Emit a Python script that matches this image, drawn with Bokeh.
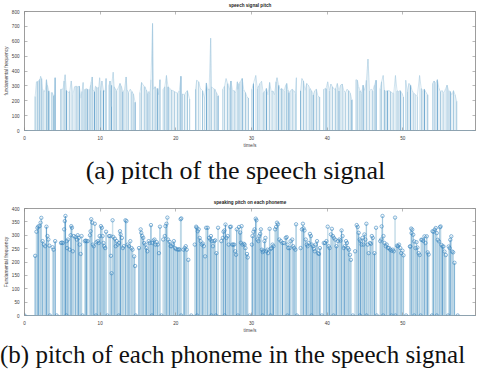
from bokeh.plotting import figure
from bokeh.layouts import column
from bokeh.models import Div, Span, LinearAxis, SingleIntervalTicker, ColumnDataSource, CustomJSTickFormatter
from bokeh.embed import file_html
from bokeh.resources import INLINE

X_END = 59.6

# ---------------- (a) frame-level pitch (0 = unvoiced) ----------------
top_time_1 = [1.41, 1.41, 1.58, 1.75, 1.92, 2.05, 2.13, 2.26, 2.39, 2.56, 2.73, 2.90, 3.03, 3.20, 3.32, 3.32,
              3.62, 3.62, 3.70, 3.84, 3.97, 4.05, 4.05,
              4.77, 4.77, 4.94, 5.10, 5.24, 5.37, 5.54, 5.75, 5.97, 6.18, 6.39, 6.61, 6.82, 7.03, 7.24, 7.46, 7.60, 7.75, 7.75,
              8.00, 8.00, 8.18, 8.35, 8.35,
              8.61, 8.61, 8.74, 8.82, 8.95, 9.04, 9.25, 9.38, 9.55, 9.68, 9.80, 9.93, 10.06, 10.23, 10.44, 10.66, 10.78, 10.78,
              11.17, 11.17, 11.30, 11.45, 11.51, 11.72, 11.85, 12.00, 12.15, 12.36, 12.62, 12.79, 13.00, 13.20, 13.43, 13.56,
              13.73, 13.98, 14.19, 14.40, 14.62, 14.62]
top_pitch_1 = [0, 229, 327, 330, 334, 345, 364, 349, 277, 268, 262, 342, 305, 268, 255, 0,
               0, 256, 250, 233, 240, 355, 0,
               0, 277, 277, 280, 333, 375, 270, 255, 262, 333, 240, 294, 298, 294, 298, 218, 262, 323, 0,
               0, 277, 280, 277, 0,
               0, 277, 305, 327, 360, 270, 262, 298, 290, 283, 290, 355, 270, 333, 270, 262, 349, 0,
               0, 305, 333, 160, 305, 392, 294, 280, 268, 283, 316, 298, 262, 270, 360, 272,
               255, 277, 262, 246, 190, 0]

top_time_2 = [15.26, 15.26, 15.47, 15.69, 15.90, 16.11, 16.32, 16.45, 16.58, 16.71, 16.92, 17.05, 17.26, 17.48, 17.60, 17.73, 17.90, 17.90,
              18.33, 18.33, 18.54, 18.76, 18.97, 19.18, 19.40, 19.61, 19.82, 20.03, 20.25, 20.46, 20.67, 20.67,
              20.89, 20.89, 21.14, 21.31, 21.52, 21.82, 21.82,
              22.60, 22.60, 22.76, 23.02, 23.23, 23.53, 23.78, 24.04, 24.21, 24.40, 24.60, 24.72, 24.94, 25.15, 25.36, 25.58, 25.58,
              26.21, 26.21, 26.43, 26.64, 26.85, 27.06, 27.28, 27.49, 27.71, 27.92, 28.13, 28.24, 28.35, 28.50, 28.77, 28.98,
              29.20, 29.40, 29.60, 29.60]
top_pitch_2 = [0, 255, 323, 305, 294, 272, 250, 262, 240, 342, 720, 277, 294, 277, 283, 240, 342, 0,
               0, 277, 294, 370, 294, 283, 272, 268, 262, 255, 250, 268, 364, 0,
               0, 246, 240, 255, 268, 211, 0,
               0, 277, 338, 327, 283, 268, 218, 320, 272, 280, 621, 294, 283, 277, 255, 233, 0,
               0, 277, 298, 349, 316, 272, 333, 268, 268, 251, 327, 277, 316, 327, 349, 272,
               255, 225, 218, 0]

top_time_3 = [30.05, 30.05, 30.26, 30.56, 30.77, 30.95, 31.11, 31.33, 31.54, 31.75, 31.97, 32.18, 32.39, 32.61, 32.82, 33.03,
              33.25, 33.37, 33.59, 33.80, 33.97, 34.10, 34.31, 34.52, 34.65, 34.82, 34.95, 35.16, 35.38, 35.59, 35.80, 35.93, 35.93,
              36.48, 36.48, 36.66, 36.87, 37.08, 37.29, 37.51, 37.72, 37.93, 38.15, 38.36, 38.57, 38.79, 39.00, 39.00,
              39.55, 39.55, 39.85, 40.07, 40.28, 40.49, 40.70, 40.92, 41.13, 41.34, 41.56, 41.77, 41.98, 42.20, 42.41, 42.62,
              42.84, 43.05, 43.26, 43.26]
top_pitch_3 = [0, 277, 316, 370, 283, 300, 316, 331, 255, 262, 283, 240, 323, 262, 266, 240,
               327, 355, 305, 272, 283, 277, 268, 305, 316, 272, 255, 268, 277, 268, 251, 355, 0,
               0, 268, 349, 333, 268, 316, 305, 283, 268, 240, 268, 277, 229, 225, 0,
               0, 277, 283, 327, 268, 312, 294, 277, 283, 316, 268, 305, 312, 268, 255, 277,
               268, 251, 207, 0]

top_time_4 = [43.82, 43.82, 43.99, 44.16, 44.33, 44.54, 44.75, 44.97, 45.18, 45.39, 45.61, 45.82, 46.03, 46.25, 46.46, 46.46,
              47.01, 47.01, 47.18, 47.40, 47.57, 47.74, 47.95, 48.16, 48.38, 48.59, 48.80, 49.02, 49.23, 49.44, 49.66, 49.87, 50.08, 50.08,
              50.38, 50.38, 50.59, 50.81, 51.02, 51.23, 51.45, 51.66, 51.91, 52.21, 52.43, 52.64, 52.85, 53.07, 53.28, 53.28,
              53.92, 53.92, 54.13, 54.35, 54.56, 54.77, 54.98, 55.20, 55.41, 55.62, 55.84, 56.05, 56.26, 56.48, 56.69, 56.90,
              57.11, 57.11]
top_pitch_4 = [0, 342, 338, 294, 268, 251, 305, 268, 338, 480, 268, 277, 268, 305, 338, 0,
               0, 283, 327, 370, 272, 262, 268, 268, 262, 251, 251, 370, 268, 262, 268, 251, 225, 0,
               0, 338, 262, 316, 305, 268, 251, 240, 229, 370, 283, 268, 277, 255, 240, 0,
               0, 316, 333, 316, 342, 283, 262, 268, 251, 277, 305, 268, 262, 240, 268, 240,
               196, 0]

# ---------------- (b) pitch of each phoneme (0 = boundary) ----------------
phon_time_1 = [0.0, 1.41, 1.58, 1.71, 1.83, 2.00, 2.13, 2.22, 2.39, 2.56, 2.73, 2.90, 3.03, 3.15, 3.28, 3.35, 3.71, 3.84, 4.05, 4.26,
               4.82, 4.94, 5.07, 5.24, 5.33, 5.41, 5.54, 5.58, 5.63, 5.75, 5.97, 6.10, 6.18, 6.27, 6.39, 6.52, 6.73, 6.91,
               7.03, 7.16, 7.29, 7.42, 7.54, 7.67, 7.97, 8.08, 8.18, 8.35,
               8.65, 8.74, 8.82, 8.95, 9.04, 9.16, 9.29, 9.45, 9.51, 9.68, 9.80, 9.93, 10.10, 10.23, 10.32, 10.44, 10.53,
               10.66, 10.78, 10.95,
               11.17, 11.34, 11.42, 11.51, 11.64, 11.72, 11.94, 12.06, 12.19, 12.32, 12.45, 12.50, 12.62, 12.70, 12.87, 13.00,
               13.13, 13.34, 13.47, 13.64, 13.81, 13.98, 14.15, 14.28, 14.49, 14.62, 14.70]
phon_pitch_1 = [0, 223, 313, 328, 333, 334, 347, 365, 278, 265, 259, 332, 297, 284, 261, 0, 255, 246, 278, 0,
                271, 273, 271, 322, 353, 372, 0, 278, 252, 284, 246, 300, 334, 328, 240, 297, 293, 284,
                300, 290, 265, 230, 297, 0, 278, 280, 278, 278,
                300, 315, 360, 347, 265, 259, 343, 0, 274, 278, 271, 297, 334, 328, 297, 271, 259,
                252, 313, 0,
                297, 297, 223, 158, 356, 294, 287, 259, 278, 265, 0, 271, 315, 303, 290, 252,
                259, 356, 353, 265, 259, 278, 252, 246, 221, 185, 0]

phon_time_2 = [15.13, 15.35, 15.43, 15.56, 15.69, 15.81, 15.98, 16.11, 16.24, 16.41, 16.54, 16.71, 16.84, 16.90, 17.05, 17.18,
               17.31, 17.48, 17.60, 17.77, 17.90, 18.10,
               18.33, 18.54, 18.63, 18.76, 18.88, 18.97, 19.18, 19.31, 19.44, 19.61, 19.74, 19.91, 20.03, 20.25, 20.37, 20.50,
               20.63, 20.70, 20.72,
               21.01, 21.18, 21.31, 21.44, 21.65, 22.04,
               22.50, 22.68, 22.76, 22.80, 22.89, 23.02, 23.15, 23.27, 23.44, 23.57, 23.70, 23.87, 24.00, 24.21, 24.38, 24.55,
               24.64, 24.70, 24.77, 24.90, 25.06, 25.19, 25.30, 25.36, 25.58,
               26.00, 26.21, 26.30, 26.43, 26.45, 26.56, 26.68, 26.85, 26.98, 27.15, 27.28, 27.45, 27.58, 27.71, 27.84, 27.96,
               28.05, 28.20, 28.35, 28.50, 28.60, 28.69, 28.80, 28.98, 29.10, 29.20, 29.40, 29.50, 29.75]
phon_pitch_2 = [252, 322, 309, 297, 290, 271, 265, 252, 240, 278, 271, 338, 0, 271, 280, 284,
                265, 274, 265, 233, 332, 0,
                284, 297, 334, 343, 366, 284, 275, 259, 259, 265, 278, 252, 248, 246, 248, 246,
                360, 0, 363,
                246, 252, 259, 246, 208, 0,
                265, 332, 328, 0, 315, 322, 290, 278, 265, 269, 259, 221, 328, 328, 290, 284,
                297, 0, 278, 259, 278, 281, 0, 233, 328,
                278, 290, 313, 318, 0, 340, 290, 297, 265, 331, 332, 265, 265, 265, 240, 227,
                322, 0, 331, 310, 272, 334, 265, 268, 265, 252, 230, 217, 0]

phon_time_3 = [30.05, 30.13, 30.26, 30.40, 30.56, 30.65, 30.77, 30.90, 31.03, 31.15, 31.24, 31.37, 31.46, 31.48, 31.58, 31.71,
               31.84, 31.97, 32.10, 32.18, 32.39, 32.52, 32.53, 32.65, 32.78, 32.90, 33.12, 33.25, 33.37, 33.50,
               33.67, 33.88, 34.10, 34.31, 34.52, 34.65, 34.74, 34.76, 34.85, 35.04, 35.16, 35.38, 35.50, 35.63, 35.80, 35.89, 36.00,
               36.49, 36.66, 36.79, 36.87, 37.00, 37.17, 37.30, 37.42, 37.55, 37.72, 37.85, 37.93, 37.98, 38.10, 38.23, 38.36,
               38.49, 38.66, 38.79, 38.92, 39.04, 39.30,
               39.55, 39.72, 39.90, 40.07, 40.20, 40.32, 40.49, 40.62, 40.75, 40.83, 40.88, 41.05, 41.22, 41.43, 41.60, 41.77,
               41.90, 42.03, 42.20, 42.32, 42.49, 42.62, 42.75, 42.88, 43.01, 43.13, 43.39]
phon_pitch_3 = [265, 297, 313, 322, 362, 356, 284, 278, 297, 305, 322, 246, 0, 237, 242, 278,
                290, 240, 246, 233, 324, 0, 249, 252, 265, 259, 322, 331, 347, 341,
                284, 278, 271, 271, 290, 293, 0, 265, 252, 252, 278, 284, 259, 252, 246, 341, 0,
                252, 322, 343, 326, 318, 284, 265, 259, 271, 305, 297, 0, 265, 259, 249, 240,
                265, 278, 233, 230, 252, 0,
                271, 271, 278, 332, 259, 252, 303, 324, 297, 0, 290, 284, 259, 278, 284, 280,
                318, 297, 252, 259, 278, 271, 252, 246, 227, 208, 0]

phon_time_4 = [43.69, 43.90, 44.03, 44.16, 44.29, 44.33, 44.41, 44.54, 44.67, 44.80, 44.92, 45.05, 45.18, 45.20, 45.35, 45.48,
               45.65, 45.78, 45.90, 46.03, 46.24, 46.46, 46.55,
               47.01, 47.14, 47.20, 47.31, 47.40, 47.44, 47.57, 47.74, 47.87, 48.04, 48.20, 48.33, 48.50, 48.52, 48.67, 48.80,
               48.97, 49.02, 49.23, 49.36, 49.49, 49.66, 49.78, 49.95, 50.08, 50.43,
               50.93, 51.00, 51.10, 51.15, 51.24, 51.37, 51.50, 51.50, 51.67, 51.80, 51.92, 52.09, 52.22, 52.35,
               52.43, 52.56, 52.69, 52.86, 52.99, 53.16, 53.28, 53.41, 53.84,
               53.92, 54.05, 54.22, 54.35, 54.48, 54.48, 54.61, 54.78, 54.90, 54.99, 55.10, 55.24, 55.37, 55.50, 55.67, 55.97,
               56.06, 56.19, 56.27, 56.40, 56.52, 56.65, 56.82, 57.25]
phon_pitch_4 = [240, 338, 331, 309, 284, 0, 278, 265, 290, 265, 303, 284, 343, 0, 265, 233,
                271, 268, 297, 290, 233, 328, 0,
                278, 284, 333, 372, 0, 297, 271, 259, 265, 252, 252, 246, 0, 242, 246, 240,
                366, 0, 261, 259, 265, 252, 233, 242, 225, 0,
                258, 258, 325, 308, 321, 302, 0, 277, 252, 274, 254, 233, 226, 0,
                283, 283, 279, 296, 271, 296, 236, 228, 0,
                315, 313, 321, 327, 0, 308, 283, 277, 330, 333, 264, 258, 258, 239, 226, 0,
                258, 252, 283, 296, 239, 236, 197, 0]

top_time = top_time_1 + top_time_2 + top_time_3 + top_time_4
top_pitch = top_pitch_1 + top_pitch_2 + top_pitch_3 + top_pitch_4
phon_time = phon_time_1 + phon_time_2 + phon_time_3 + phon_time_4
phon_pitch = phon_pitch_1 + phon_pitch_2 + phon_pitch_3 + phon_pitch_4

x_ticks_interval = 10

FONT = "Liberation Sans"
AX_COL = "#8a8a8a"
LBL_COL = "#3c3c3c"

bar_shades = ["#cde1ec", "#b3d1e3", "#deecf3", "#9cc4dc", "#c4dbe8", "#6fa8cf", "#d6e7f0", "#a9cbe0"]
stem_shades = ["#a9cbe0", "#5d9dca", "#bfd8e7", "#8ab9d7", "#3c86be", "#b3d1e3", "#9dc3dc"]


def base_fig(height, ymax, yint, title, ylabel, border_top):
    p = figure(width=479, height=height, x_range=(0, X_END), y_range=(0, ymax),
               output_backend="svg", toolbar_location=None,
               min_border_left=0, min_border_right=2, min_border_top=border_top, min_border_bottom=0)
    p.title.text = title
    p.title.align = "center"
    p.title.text_font = FONT
    p.title.text_font_size = "4.6px"
    p.title.text_font_style = "bold"
    p.title.text_color = "#222222"
    p.title.standoff = 0
    p.title.offset = 0
    p.xgrid.visible = False
    p.ygrid.visible = False
    p.outline_line_color = AX_COL
    p.outline_line_width = 0.6
    p.background_fill_color = "white"
    p.border_fill_color = "white"

    p.xaxis.ticker = SingleIntervalTicker(interval=x_ticks_interval)
    p.yaxis.ticker = SingleIntervalTicker(interval=yint)
    for ax in (p.xaxis[0], p.yaxis[0]):
        ax.major_tick_in = 3
        ax.major_tick_out = 0
        ax.minor_tick_line_color = None
        ax.axis_line_color = AX_COL
        ax.axis_line_width = 0.6
        ax.major_tick_line_color = AX_COL
        ax.major_tick_line_width = 0.6
        ax.major_label_text_font = FONT
        ax.major_label_text_font_size = "4.6px"
        ax.major_label_text_color = LBL_COL
        ax.major_label_standoff = 1
        ax.axis_label_text_font = FONT
        ax.axis_label_text_font_size = "4.8px"
        ax.axis_label_text_font_style = "normal"
        ax.axis_label_text_color = LBL_COL
        ax.axis_label_standoff = 0
    p.xaxis.axis_label = "time/s"
    p.yaxis.axis_label = ylabel

    blank = CustomJSTickFormatter(code="return ''")
    top_ax = LinearAxis(ticker=SingleIntervalTicker(interval=x_ticks_interval), formatter=blank,
                        major_tick_in=3, major_tick_out=0, minor_tick_line_color=None,
                        axis_line_color=AX_COL, axis_line_width=0.6,
                        major_tick_line_color=AX_COL, major_tick_line_width=0.6,
                        major_label_standoff=0, major_label_text_font_size="1px")
    right_ax = LinearAxis(ticker=SingleIntervalTicker(interval=yint), formatter=blank,
                          major_tick_in=3, major_tick_out=0, minor_tick_line_color=None,
                          axis_line_color=AX_COL, axis_line_width=0.6,
                          major_tick_line_color=AX_COL, major_tick_line_width=0.6,
                          major_label_standoff=0, major_label_text_font_size="1px")
    p.add_layout(top_ax, "above")
    p.add_layout(right_ax, "right")
    return p


# ---------- figure (a) ----------
p1 = base_fig(150, 800, 100, "speech signal pitch", "fundamental frequency", 0)
src1 = ColumnDataSource(dict(t=top_time, f=top_pitch,
                             c=[bar_shades[i % len(bar_shades)] for i in range(len(top_time))]))
p1.vbar(x="t", top="f", width=0.14, bottom=0, fill_color="c", line_color=None, source=src1)
p1.line(x="t", y="f", line_color="#a6cbe1", line_width=0.5, source=src1)
p1.add_layout(Span(location=0, dimension="width", line_color="#7aa9cc", line_width=0.8))

# ---------- figure (b) ----------
p2 = base_fig(145, 400, 50, "speaking pitch on each phoneme", "Fundamental frequency", 18)
src2 = ColumnDataSource(dict(t=phon_time, f=phon_pitch, z=[0] * len(phon_time),
                             c=[stem_shades[i % len(stem_shades)] for i in range(len(phon_time))]))
p2.vbar(x="t", top="f", width=0.2, bottom=0, fill_color="#d6e7f0", line_color=None, source=src2)
p2.segment(x0="t", y0="z", x1="t", y1="f", line_color="c", line_width=0.7, source=src2)
p2.add_layout(Span(location=0, dimension="width", line_color="#7aa9cc", line_width=0.8))
p2.scatter(x="t", y="f", marker="circle", size=3.4, fill_color=None, line_color="#3a86c0",
           line_width=0.6, source=src2)

CAP = "font-family:'Liberation Serif','Times New Roman',serif;color:#111;white-space:nowrap;"
cap_a = Div(text=f'<div style="{CAP}font-size:26px;text-align:center;width:471px;padding-top:2px;">(a) pitch of the speech signal</div>',
            width=479, height=40, margin=(0, 0, 0, 0))
cap_b = Div(text=f'<div style="{CAP}font-size:25px;padding-top:2px;">(b) pitch of each phoneme in the speech signal</div>',
            width=479, height=29, margin=(0, 0, 0, 0))

layout = column(p1, cap_a, p2, cap_b, spacing=0)
open("out.html", "w").write(file_html(layout, INLINE))
